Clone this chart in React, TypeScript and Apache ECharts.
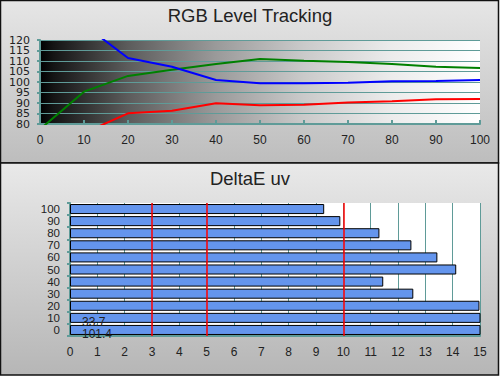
import React, { useEffect, useRef } from "react";
import * as echarts from "echarts";

// ---- Data ----
const levelX = [0, 10, 20, 30, 40, 50, 60, 70, 80, 90, 100];
const redLevels = [null, 75.7, 85.1, 86.3, 89.9, 88.9, 89.2, 90.2, 90.8, 91.8, 91.9];
const greenLevels = [77.5, 95.4, 102.9, 105.8, 108.6, 111.0, 110.1, 109.5, 108.6, 107.3, 106.7];
const blueLevels = [null, 127.3, 111.4, 107.3, 100.95, 99.4, 99.4, 99.7, 100.3, 100.5, 101.0];
const levelTicksEven = [80, 90, 100, 110, 120];
const levelTicksOdd = [85, 95, 105, 115];

const deltaCategories = ["0", "10", "20", "30", "40", "50", "60", "70", "80", "90", "100"];
const deltaValues = [101.4, 33.7, 14.98, 12.56, 11.46, 14.13, 13.44, 12.49, 11.32, 9.89, 9.3];
const thresholdLines = [3, 5, 10];

const topTitle = "RGB Level Tracking";
const bottomTitle = "DeltaE uv";

const FONT = '"Liberation Sans", Arial, Helvetica, sans-serif';
const WIDE = '"DejaVu Sans", Verdana, sans-serif';
const TEAL = "#5f9b98";
const LABEL = "#222";
const DELTA_MAX = 15;

export default function App() {
  const ref = useRef<HTMLDivElement>(null);

  useEffect(() => {
    if (!ref.current) return;
    const chart = echarts.init(ref.current, null, { renderer: "svg" });

    const pairs = (ys: (number | null)[]) => levelX.map((x, i) => [x, ys[i]]);

    const lineSeries = (name: string, ys: (number | null)[], color: string) => ({
      name,
      type: "line",
      xAxisIndex: 0,
      yAxisIndex: 0,
      data: pairs(ys),
      showSymbol: false,
      symbol: "none",
      clip: true,
      lineStyle: { color, width: 2 },
      z: 5,
    });

    const topYLabel = (values: number[]) => ({
      color: LABEL,
      fontSize: 11,
      lineHeight: 10,
      margin: 10,
      fontFamily: WIDE,
      customValues: values,
      showMinLabel: true,
      showMaxLabel: true,
    });

    const option: any = {
      animation: false,
      textStyle: { fontFamily: FONT },
      graphic: [
        {
          type: "rect",
          z: -100,
          shape: { x: 0.5, y: 0.5, width: 498, height: 162.5 },
          style: {
            fill: new echarts.graphic.LinearGradient(0, 0, 0, 1, [
              { offset: 0, color: "#e6e6e6" },
              { offset: 1, color: "#bdbdbd" },
            ]),
            stroke: "#111",
            lineWidth: 1.5,
          },
        },
        {
          type: "rect",
          z: -100,
          shape: { x: 0.5, y: 163, width: 498, height: 212 },
          style: {
            fill: new echarts.graphic.LinearGradient(0, 0, 0, 1, [
              { offset: 0, color: "#e9e9e9" },
              { offset: 1, color: "#b6b6b6" },
            ]),
            stroke: "#111",
            lineWidth: 1.5,
          },
        },
        {
          type: "text",
          z: 10,
          x: 250,
          y: 15,
          style: {
            text: topTitle,
            fontFamily: FONT,
            fontSize: 18.5,
            fill: "#222",
            textAlign: "center",
            textVerticalAlign: "middle",
          },
        },
        {
          type: "text",
          z: 10,
          x: 250,
          y: 178,
          style: {
            text: bottomTitle,
            fontFamily: FONT,
            fontSize: 18.5,
            fill: "#222",
            textAlign: "center",
            textVerticalAlign: "middle",
          },
        },
      ],
      grid: [
        {
          left: 40,
          top: 40,
          width: 440,
          height: 84,
          show: true,
          borderWidth: 0,
          backgroundColor: new echarts.graphic.LinearGradient(0, 0, 1, 0, [
            { offset: 0, color: "#000000" },
            { offset: 0.03, color: "#141414" },
            { offset: 0.2, color: "#5c5c5c" },
            { offset: 0.4, color: "#9a9a9a" },
            { offset: 0.6, color: "#cacaca" },
            { offset: 0.8, color: "#ececec" },
            { offset: 1, color: "#ffffff" },
          ]),
        },
        {
          left: 70,
          top: 203,
          width: 410,
          height: 133,
          show: true,
          borderWidth: 0,
          backgroundColor: "#ffffff",
        },
      ],
      xAxis: [
        {
          gridIndex: 0,
          type: "value",
          min: 0,
          max: 100,
          interval: 10,
          axisLine: { show: true, lineStyle: { color: TEAL, width: 2 } },
          axisTick: { show: true, inside: true, length: 4, lineStyle: { color: TEAL, width: 2 } },
          splitLine: { show: false },
          axisLabel: { color: LABEL, fontSize: 12, margin: 10, fontFamily: FONT },
        },
        {
          gridIndex: 1,
          type: "value",
          min: 0,
          max: DELTA_MAX,
          interval: 1,
          axisLine: { show: true, lineStyle: { color: TEAL, width: 2 } },
          axisTick: { show: true, inside: true, length: 5, lineStyle: { color: TEAL, width: 2 } },
          splitLine: { show: true, lineStyle: { color: TEAL, width: 1 } },
          axisLabel: { color: LABEL, fontSize: 12, margin: 10, fontFamily: FONT },
        },
      ],
      yAxis: [
        {
          gridIndex: 0,
          type: "value",
          min: 80,
          max: 120,
          interval: 5,
          axisLine: { show: true, lineStyle: { color: TEAL, width: 2 } },
          axisTick: { show: true, length: 3, lineStyle: { color: TEAL, width: 2 } },
          splitLine: { show: true, lineStyle: { color: TEAL, width: 1 } },
          axisLabel: topYLabel(levelTicksEven),
        },
        {
          gridIndex: 1,
          type: "category",
          data: deltaCategories,
          boundaryGap: true,
          axisLine: { show: true, lineStyle: { color: TEAL, width: 2 } },
          axisTick: { show: true, length: 3, lineStyle: { color: TEAL, width: 2 } },
          splitLine: { show: false },
          axisLabel: {
            color: LABEL,
            fontSize: 11.5,
            lineHeight: 11,
            margin: 10,
            interval: 0,
            fontFamily: FONT,
          },
        },
        {
          gridIndex: 0,
          type: "value",
          position: "left",
          min: 80,
          max: 120,
          interval: 5,
          axisLine: { show: false },
          axisTick: { show: false },
          splitLine: { show: false },
          axisLabel: topYLabel(levelTicksOdd),
        },
      ],
      series: [
        lineSeries("Green", greenLevels, "#008000"),
        lineSeries("Blue", blueLevels, "#0000ff"),
        lineSeries("Red", redLevels, "#ff0000"),
        {
          name: "DeltaE uv",
          type: "bar",
          xAxisIndex: 1,
          yAxisIndex: 1,
          clip: true,
          barCategoryGap: "17%",
          data: deltaValues.map((v) => ({
            value: v,
            label: {
              show: v > DELTA_MAX,
              position: "insideLeft",
              offset: [7, 4],
              formatter: String(v),
              color: LABEL,
              fontSize: 12,
              lineHeight: 11,
              fontFamily: FONT,
            },
          })),
          itemStyle: { color: "#6495ed", borderColor: "#000", borderWidth: 1 },
          z: 3,
          markLine: {
            silent: true,
            symbol: "none",
            label: { show: false },
            lineStyle: { color: "#ff0000", width: 1.5, type: "solid" },
            data: thresholdLines.map((x) => ({ xAxis: x })),
            z: 6,
          },
        },
      ],
    };

    chart.setOption(option);
    return () => chart.dispose();
  }, []);

  return (
    <div
      ref={ref}
      style={{ position: "absolute", left: 0, top: 0, width: 500, height: 376 }}
    />
  );
}
